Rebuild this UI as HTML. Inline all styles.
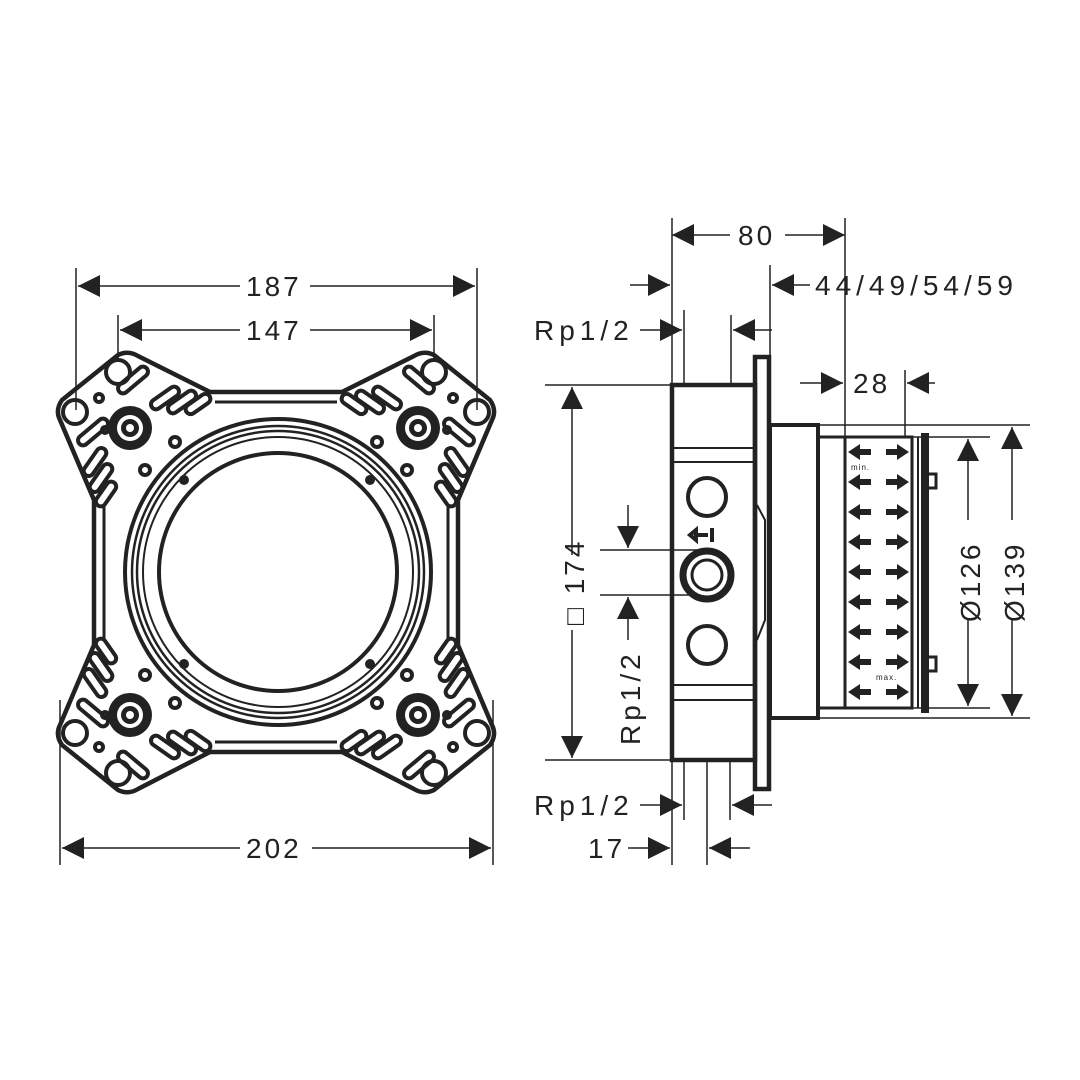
<!DOCTYPE html>
<html><head><style>html,body{margin:0;padding:0;background:#fff}svg{display:block}</style></head>
<body>
<svg width="1080" height="1080" viewBox="0 0 1080 1080" xmlns="http://www.w3.org/2000/svg" font-family="'Liberation Sans', sans-serif">
<defs>
<marker id="a" viewBox="0 0 10 10" refX="10" refY="5" markerWidth="22" markerHeight="22" markerUnits="userSpaceOnUse" orient="auto-start-reverse"><path d="M0,0 L10,5 L0,10 Z" fill="#222"/></marker>
<g id="screw"><circle r="22" fill="#222"/><circle r="13" fill="#fff"/><circle r="9" fill="#222"/><circle r="4" fill="#fff"/></g>
<g id="corner" fill="none" stroke="#222" stroke-width="4">
<circle cx="118" cy="372" r="12"/><circle cx="75" cy="412" r="12"/>
<rect x="-18" y="-5" width="36" height="10" rx="5" transform="translate(133,380) rotate(-40)"/>
<rect x="-18" y="-5" width="36" height="10" rx="5" transform="translate(93,432) rotate(-40)"/>
<rect x="-16" y="-5" width="32" height="10" rx="5" transform="translate(165,398) rotate(-35)"/>
<rect x="-16" y="-5" width="32" height="10" rx="5" transform="translate(182,402) rotate(-35)"/>
<rect x="-14" y="-5" width="28" height="10" rx="5" transform="translate(198,404) rotate(-35)"/>
<rect x="-16" y="-5" width="32" height="10" rx="5" transform="translate(95,462) rotate(-55)"/>
<rect x="-16" y="-5" width="32" height="10" rx="5" transform="translate(101,478) rotate(-55)"/>
<rect x="-14" y="-5" width="28" height="10" rx="5" transform="translate(106,494) rotate(-55)"/>
<circle cx="99" cy="398" r="4"/><circle cx="175" cy="442" r="5"/><circle cx="145" cy="470" r="5"/><circle cx="105" cy="430" r="3"/>
</g>
</defs>
<g stroke="#222" fill="none">
<path d="M118,355 Q128,350 138,356 L210,392 L342,392 L414,356 Q424,350 434,355 L490,400 Q497,410 492,420 L458,500 L458,645 L492,725 Q497,735 490,745 L434,790 Q424,795 414,789 L342,752 L210,752 L138,789 Q128,795 118,790 L62,745 Q55,735 60,725 L94,645 L94,500 L60,420 Q55,410 62,400 Z" stroke-width="4.5"/>
<path d="M215,402 L337,402 M215,742 L337,742 M104,505 L104,640 M448,505 L448,640" stroke-width="3"/>
<use href="#corner"/>
<use href="#corner" transform="translate(552,0) scale(-1,1)"/>
<use href="#corner" transform="translate(0,1145) scale(1,-1)"/>
<use href="#corner" transform="translate(552,1145) scale(-1,-1)"/>
<circle cx="278" cy="572" r="153" stroke-width="4"/>
<circle cx="278" cy="572" r="146" stroke-width="2.5"/>
<circle cx="278" cy="572" r="141" stroke-width="2.5"/>
<circle cx="278" cy="572" r="135" stroke-width="2"/>
<circle cx="278" cy="572" r="119" stroke-width="4"/>
</g>
<g fill="#222"><circle cx="184" cy="480" r="5"/><circle cx="370" cy="480" r="5"/><circle cx="184" cy="664" r="5"/><circle cx="370" cy="664" r="5"/></g>
<use href="#screw" x="130" y="428"/><use href="#screw" x="418" y="428"/><use href="#screw" x="130" y="715"/><use href="#screw" x="418" y="715"/>

<g stroke="#222" stroke-width="1.5" fill="none">
<path d="M76,268 V410 M477,268 V410 M118,315 V360 M434,315 V360 M60,700 V865 M493,700 V865"/>
<path d="M78,286 H240 M310,286 H475" marker-start="url(#a)" marker-end="url(#a)"/>
<path d="M120,330 H240 M310,330 H432" marker-start="url(#a)" marker-end="url(#a)"/>
<path d="M62,848 H240 M312,848 H491" marker-start="url(#a)" marker-end="url(#a)"/>
</g>
<g font-size="28" fill="#222" letter-spacing="3">
<text x="246" y="296">187</text><text x="246" y="340">147</text><text x="246" y="858">202</text>
</g>

<g stroke="#222" fill="none">
<rect x="672" y="385" width="83" height="375" stroke-width="4.5"/>
<path d="M672,448 H755 M672,462 H755 M672,685 H755 M672,700 H755" stroke-width="2"/>
<rect x="755" y="357" width="14" height="432" stroke-width="4.5"/>
<path d="M757,505 L765,520 V620 L757,640" stroke-width="2"/>
<rect x="770" y="425" width="48" height="293" stroke-width="4"/>
<rect x="818" y="437" width="27" height="271" stroke-width="3"/>
<rect x="845" y="437" width="67" height="271" stroke-width="3"/>
<path d="M912,437 V708 M918,437 V708" stroke-width="2"/>
<rect x="922" y="434" width="6" height="278" fill="#222" stroke-width="2"/>
<path d="M928,474 h8 v14 h-8 M928,657 h8 v14 h-8" stroke-width="3"/>
<circle cx="707" cy="497" r="19" stroke-width="4"/>
<circle cx="707" cy="575" r="24" stroke-width="7"/>
<circle cx="707" cy="575" r="15" stroke-width="3"/>
<circle cx="707" cy="645" r="19" stroke-width="4"/>
<path d="M690,535 l6,-5 v10 Z M696,535 h12 M712,528 v14" stroke-width="4"/>
</g>
<g fill="#222">
<g id="arr"><path d="M848,452 l12,-8 v5 h11 v6 h-11 v5 Z"/><path d="M909,452 l-12,-8 v5 h-11 v6 h11 v5 Z"/></g>
<use href="#arr" y="30"/><use href="#arr" y="60"/><use href="#arr" y="90"/><use href="#arr" y="120"/><use href="#arr" y="150"/><use href="#arr" y="180"/><use href="#arr" y="210"/><use href="#arr" y="240"/>
<text x="851" y="470" font-size="8" letter-spacing="1">min.</text>
<text x="876" y="680" font-size="8" letter-spacing="1">max.</text>
</g>
<g stroke="#222" stroke-width="1.5" fill="none">
<path d="M672,218 V385 M845,218 V437 M684,310 V385 M731,315 V385 M770,265 V357 M905,370 V437 M672,760 V865 M684,760 V820 M707,760 V865 M730,760 V820"/>
<path d="M672,235 H730 M785,235 H845" marker-start="url(#a)" marker-end="url(#a)"/>
<path d="M630,285 H670" marker-end="url(#a)"/><path d="M810,285 H772" marker-end="url(#a)"/>
<path d="M640,330 H682" marker-end="url(#a)"/><path d="M772,330 H733" marker-end="url(#a)"/>
<path d="M800,383 H843" marker-end="url(#a)"/><path d="M935,383 H907" marker-end="url(#a)"/>
<path d="M640,805 H682" marker-end="url(#a)"/><path d="M772,805 H732" marker-end="url(#a)"/>
<path d="M628,848 H670" marker-end="url(#a)"/><path d="M750,848 H709" marker-end="url(#a)"/>
<path d="M545,385 H672 M545,760 H672 M600,550 H700 M600,595 H700 M820,425 H1030 M845,437 H990 M845,708 H990 M820,718 H1030"/>
<path d="M572,387 V555 M572,630 V758" marker-start="url(#a)" marker-end="url(#a)"/>
<path d="M628,505 V548" marker-end="url(#a)"/><path d="M628,640 V597" marker-end="url(#a)"/>
<path d="M968,439 V520 M968,620 V706" marker-start="url(#a)" marker-end="url(#a)"/>
<path d="M1012,427 V520 M1012,620 V716" marker-start="url(#a)" marker-end="url(#a)"/>
</g>
<g font-size="28" fill="#222" letter-spacing="3">
<text x="738" y="245">80</text>
<text x="815" y="295" letter-spacing="5">44/49/54/59</text>
<text x="534" y="340" letter-spacing="5">Rp1/2</text>
<text x="853" y="393">28</text>
<text x="534" y="815" letter-spacing="5">Rp1/2</text>
<text x="588" y="858">17</text>
<text transform="translate(584,625) rotate(-90)">□ 174</text>
<text transform="translate(640,745) rotate(-90)" letter-spacing="4">Rp1/2</text>
<text transform="translate(980,622) rotate(-90)">Ø126</text>
<text transform="translate(1024,622) rotate(-90)">Ø139</text>
</g>
</svg>
</body></html>
